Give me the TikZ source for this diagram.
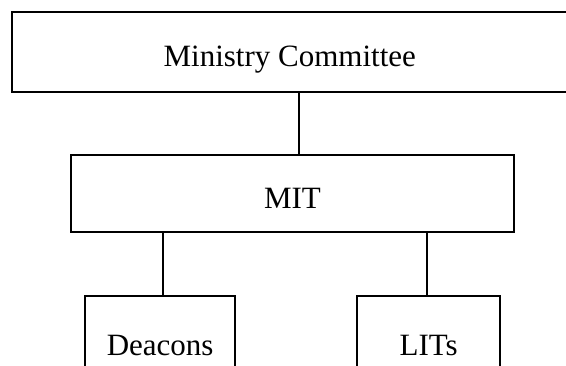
\documentclass[tikz,border=0pt]{standalone}
\usepackage{fontspec}
\setmainfont{Liberation Serif}
\begin{document}
\begin{tikzpicture}[x=1pt,y=-1pt,
  orgbox/.style={draw=black,line width=2pt,rectangle,inner sep=0pt,
    font=\fontsize{31}{36}\selectfont,text height=29pt,text depth=0pt},
  link/.style={draw=black,line width=2pt}]
\useasboundingbox (0,0) rectangle (566,365);
\clip (0,0) rectangle (566,365);
\fill[white] (0,0) rectangle (566,365);
\node[orgbox,minimum width=556.5pt,minimum height=80pt] (mc) at (289.75,51.5) {Ministry Committee};
\node[orgbox,minimum width=443.6pt,minimum height=77pt] (mit) at (292.5,193.8) {MIT};
\node[orgbox,minimum width=149.7pt,minimum height=89pt] (dea) at (160.15,340.5) {Deacons};
\node[orgbox,minimum width=142.7pt,minimum height=89pt] (lit) at (428.65,340.5) {LITs};
\coordinate (c1) at (299,0);
\coordinate (c2) at (163.3,0);
\coordinate (c3) at (427.3,0);
\draw[link] (mc.south -| c1) -- (mit.north -| c1);
\draw[link] (mit.south -| c2) -- (dea.north -| c2);
\draw[link] (mit.south -| c3) -- (lit.north -| c3);
\end{tikzpicture}
\end{document}
